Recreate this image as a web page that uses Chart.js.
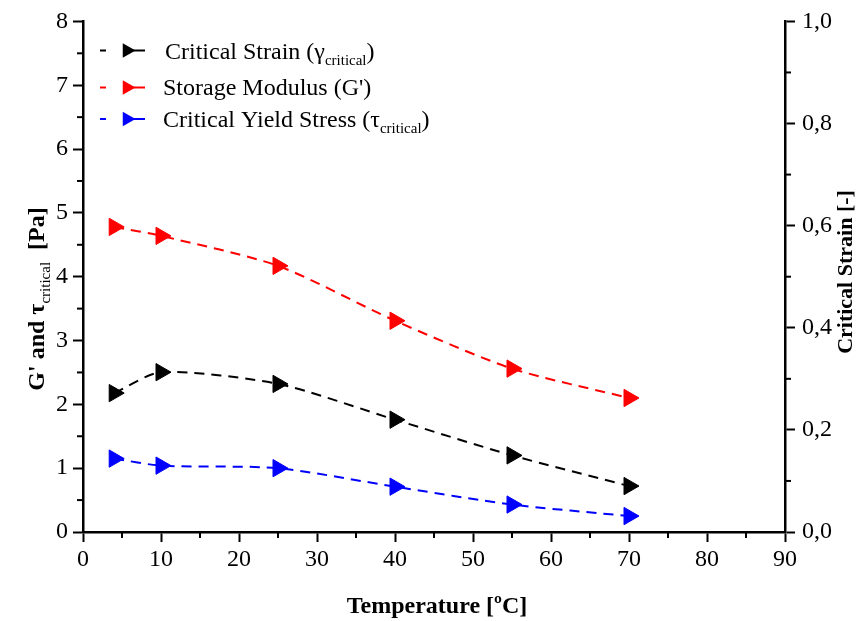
<!DOCTYPE html>
<html>
<head>
<meta charset="utf-8">
<script src="https://cdn.jsdelivr.net/npm/chart.js@4.4.1/dist/chart.umd.min.js"></script>
<style>
  html, body { margin: 0; padding: 0; background: #ffffff; }
  #wrap { width: 868px; height: 621px; position: relative; }
</style>
</head>
<body>
<div id="wrap"><canvas id="c" width="868" height="621"></canvas></div>
<script>
// ---- data ----
const temperatures = [4, 10, 25, 40, 55, 70];
const criticalStrain = [0.272, 0.313, 0.290, 0.220, 0.150, 0.090];
const storageModulus = [4.78, 4.64, 4.17, 3.31, 2.56, 2.10];
const criticalYieldStress = [1.15, 1.04, 1.00, 0.71, 0.43, 0.25];

const xTickValues = [0, 10, 20, 30, 40, 50, 60, 70, 80, 90];
const leftTickValues = [0, 1, 2, 3, 4, 5, 6, 7, 8];
const rightTickValues = [0, 0.2, 0.4, 0.6, 0.8, 1.0];

const seriesNames = ['Critical Strain (γ', 'Storage Modulus (G\')', 'Critical Yield Stress (τ'];
const seriesSubs = ['critical', '', 'critical'];
const seriesColors = ['#000000', '#ff0000', '#0000ff'];

const xTitle = 'Temperature [ºC]';
const yTitleMain = 'G\' and τ';
const yTitleSub = 'critical';
const yTitleEnd = ' [Pa]';
const y2Title = 'Critical Strain [-]';

const SERIF = '"Liberation Serif", "Times New Roman", serif';

function pts(vals) { return temperatures.map((t, i) => ({ x: t, y: vals[i] })); }

function ds(label, vals, color, axis) {
  return {
    label: label,
    data: pts(vals),
    yAxisID: axis,
    borderColor: color,
    backgroundColor: color,
    borderWidth: 2,
    borderDash: [10, 7],
    tension: 0.25,
    fill: false,
    pointStyle: 'triangle',
    rotation: 90,
    pointRadius: 10,
    pointHoverRadius: 10,
    pointBorderWidth: 1,
    pointBorderColor: color,
    pointBackgroundColor: color
  };
}

// minor ticks + titles + legend
const decorPlugin = {
  id: 'decor',
  afterDraw(chart) {
    const ctx = chart.ctx;
    const xs = chart.scales.x, ys = chart.scales.y, y2 = chart.scales.y2;
    const area = chart.chartArea;
    ctx.save();
    ctx.strokeStyle = '#000';
    ctx.lineWidth = 2;
    // minor ticks
    for (let v = 5; v < 90; v += 10) {
      const px = xs.getPixelForValue(v);
      ctx.beginPath(); ctx.moveTo(px, area.bottom); ctx.lineTo(px, area.bottom + 6); ctx.stroke();
    }
    for (let v = 0.5; v < 8; v += 1) {
      const py = ys.getPixelForValue(v);
      ctx.beginPath(); ctx.moveTo(area.left, py); ctx.lineTo(area.left - 6, py); ctx.stroke();
    }
    for (let v = 0.1; v < 1; v += 0.2) {
      const py = y2.getPixelForValue(v);
      ctx.beginPath(); ctx.moveTo(area.right, py); ctx.lineTo(area.right + 6, py); ctx.stroke();
    }

    ctx.fillStyle = '#000';
    // x title
    ctx.font = 'bold 24px ' + SERIF;
    ctx.textAlign = 'center';
    ctx.textBaseline = 'alphabetic';
    ctx.fillText(xTitle, (area.left + area.right) / 2 + 3, 613);

    // left title with subscript
    ctx.save();
    ctx.translate(44, 299);
    ctx.rotate(-Math.PI / 2);
    const fMain = 'bold 24px ' + SERIF;
    const fSub = '15px ' + SERIF;
    ctx.font = fMain; const w1 = ctx.measureText(yTitleMain).width;
    ctx.font = fSub; const w2 = ctx.measureText(yTitleSub).width;
    ctx.font = fMain; const w3 = ctx.measureText(yTitleEnd + ' ').width;
    let sx = -(w1 + w2 + w3) / 2;
    ctx.textAlign = 'left';
    ctx.font = fMain; ctx.fillText(yTitleMain, sx, 0); sx += w1;
    ctx.font = fSub; ctx.fillText(yTitleSub, sx, 6); sx += w2;
    ctx.font = fMain; ctx.fillText(' ' + yTitleEnd, sx, 0);
    ctx.restore();

    // right title
    ctx.save();
    ctx.translate(852, 272);
    ctx.rotate(-Math.PI / 2);
    ctx.font = 'bold 22px ' + SERIF;
    ctx.textAlign = 'center';
    ctx.fillText(y2Title, 0, 0);
    ctx.restore();

    // legend
    const rowY = [50.5, 87.5, 119];
    const baseY = [58.5, 95, 127];
    chart.data.datasets.forEach((d, i) => {
      const c = seriesColors[i];
      const cy = rowY[i];
      ctx.strokeStyle = c;
      ctx.fillStyle = c;
      ctx.lineWidth = 2;
      ctx.beginPath(); ctx.moveTo(100, cy); ctx.lineTo(106, cy); ctx.stroke();
      ctx.beginPath(); ctx.moveTo(128, cy); ctx.lineTo(145, cy); ctx.stroke();
      const r = 8.5, tx = 127;
      ctx.beginPath();
      ctx.moveTo(tx + r, cy);
      ctx.lineTo(tx - r / 2, cy - r * 0.866);
      ctx.lineTo(tx - r / 2, cy + r * 0.866);
      ctx.closePath(); ctx.fill();
      // text
      ctx.fillStyle = '#000';
      ctx.textAlign = 'left';
      let lx = i === 0 ? 165 : 163;
      ctx.font = '24px ' + SERIF;
      ctx.fillText(seriesNames[i], lx, baseY[i]);
      lx += ctx.measureText(seriesNames[i]).width;
      if (seriesSubs[i]) {
        ctx.font = '15px ' + SERIF;
        ctx.fillText(seriesSubs[i], lx, baseY[i] + 6);
        lx += ctx.measureText(seriesSubs[i]).width;
        ctx.font = '24px ' + SERIF;
        ctx.fillText(')', lx, baseY[i]);
      }
    });
    ctx.restore();
  }
};

const tickFont = { family: SERIF, size: 24 };

new Chart(document.getElementById('c'), {
  type: 'line',
  data: {
    datasets: [
      ds('Critical Strain', criticalStrain, seriesColors[0], 'y2'),
      ds('Storage Modulus', storageModulus, seriesColors[1], 'y'),
      ds('Critical Yield Stress', criticalYieldStress, seriesColors[2], 'y')
    ]
  },
  options: {
    responsive: false,
    animation: false,
    layout: { padding: { top: 16, left: 0, right: 0, bottom: 0 } },
    plugins: { legend: { display: false }, tooltip: { enabled: false } },
    scales: {
      x: {
        type: 'linear', position: 'bottom', min: 0, max: 90,
        afterBuildTicks: s => { s.ticks = xTickValues.map(v => ({ value: v })); },
        afterFit: s => { s.height = 89; },
        ticks: { font: tickFont, color: '#000', padding: 3, maxRotation: 0, autoSkip: false },
        grid: { drawOnChartArea: false, drawTicks: true, tickLength: 10, tickColor: '#000', tickWidth: 2 },
        border: { display: true, color: '#000', width: 2.5 }
      },
      y: {
        type: 'linear', position: 'left', min: 0, max: 8,
        afterBuildTicks: s => { s.ticks = leftTickValues.map(v => ({ value: v })); },
        afterFit: s => { s.width = 83; },
        ticks: { font: tickFont, color: '#000', padding: 5, autoSkip: false },
        grid: { drawOnChartArea: false, drawTicks: true, tickLength: 10, tickColor: '#000', tickWidth: 2 },
        border: { display: true, color: '#000', width: 2.5 }
      },
      y2: {
        type: 'linear', position: 'right', min: 0, max: 1,
        afterBuildTicks: s => { s.ticks = rightTickValues.map(v => ({ value: v })); },
        afterFit: s => { s.width = 83; },
        ticks: { font: tickFont, color: '#000', padding: 7, autoSkip: false,
                 callback: v => Number(v).toFixed(1).replace('.', ',') },
        grid: { drawOnChartArea: false, drawTicks: true, tickLength: 10, tickColor: '#000', tickWidth: 2 },
        border: { display: true, color: '#000', width: 2.5 }
      }
    }
  },
  plugins: [decorPlugin]
});
</script>
</body>
</html>
